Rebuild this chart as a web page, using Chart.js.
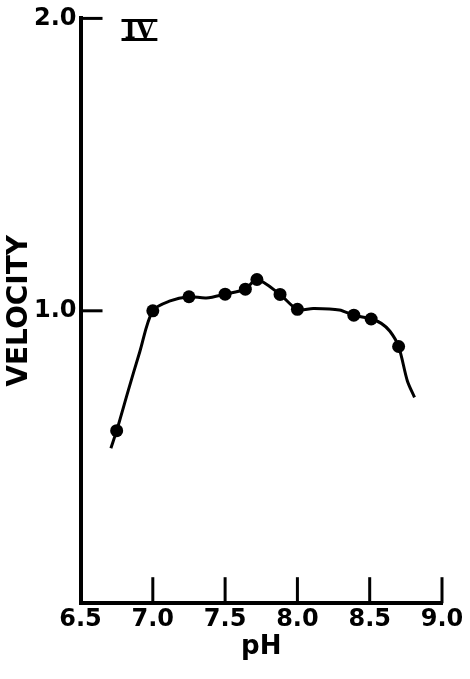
<!DOCTYPE html>
<html>
<head>
<meta charset="utf-8">
<script src="https://cdn.jsdelivr.net/npm/chart.js@4.4.0/dist/chart.umd.min.js"></script>
<style>
html, body { margin: 0; padding: 0; background: #fff; }
#wrap { width: 470px; height: 679px; }
</style>
</head>
<body>
<div id="wrap"><canvas id="canvas" width="470" height="679"></canvas></div>
<script>
// measured points (pH, velocity)
var phValues = [6.75, 7.0, 7.25, 7.5, 7.64, 7.72, 7.88, 8.0, 8.39, 8.51, 8.70];
var velValues = [0.59, 1.0, 1.048, 1.057, 1.074, 1.107, 1.056, 1.005, 0.985, 0.972, 0.878];

// hand drawn curve
var curveX = [6.71, 6.75, 6.83, 6.91, 7.0, 7.12, 7.25, 7.37, 7.5, 7.64, 7.72, 7.88, 8.0, 8.11, 8.29, 8.39, 8.51, 8.58, 8.64, 8.70, 8.76, 8.81];
var curveY = [0.53, 0.59, 0.727, 0.86, 1.0, 1.034, 1.048, 1.044, 1.057, 1.074, 1.107, 1.056, 1.005, 1.008, 1.003, 0.985, 0.972, 0.957, 0.93, 0.878, 0.761, 0.704];

var xTicks = [6.5, 7.0, 7.5, 8.0, 8.5, 9.0];
var xTickMarks = [7.0, 7.5, 8.0, 8.5, 9.0];
var yTickMarks = [1.0, 2.0];
var panelLabel = "IV";

var points = phValues.map(function (x, i) { return { x: x, y: velValues[i] }; });
var curve = curveX.map(function (x, i) { return { x: x, y: curveY[i] }; });

// inward ticks + the roman numeral label
var extras = {
    id: "extras",
    afterDraw: function (chart) {
        var ctx = chart.ctx;
        var xs = chart.scales.x, ys = chart.scales.y;
        var a = chart.chartArea;
        ctx.save();
        ctx.strokeStyle = "#000";
        ctx.lineWidth = 3;
        ctx.lineCap = "butt";
        xTickMarks.forEach(function (v) {
            var px = xs.getPixelForValue(v);
            ctx.beginPath();
            ctx.moveTo(px, a.bottom);
            ctx.lineTo(px, a.bottom - 26);
            ctx.stroke();
        });
        yTickMarks.forEach(function (v) {
            var py = ys.getPixelForValue(v);
            ctx.beginPath();
            ctx.moveTo(a.left, py);
            ctx.lineTo(a.left + 22, py);
            ctx.stroke();
        });
        // "IV"
        ctx.fillStyle = "#000";
        ctx.font = "bold 24px 'DejaVu Serif'";
        ctx.textAlign = "left";
        ctx.textBaseline = "alphabetic";
        var tx = a.left + 44, ty = a.top + 20;
        ctx.fillText(panelLabel, tx, ty);
        var w = ctx.measureText(panelLabel).width;
        ctx.lineWidth = 3;
        ctx.beginPath();
        ctx.moveTo(tx - 3, a.top + 2); ctx.lineTo(tx + w + 3, a.top + 2);
        ctx.moveTo(tx - 3, ty + 1); ctx.lineTo(tx + w + 3, ty + 1);
        ctx.stroke();
        ctx.restore();
    }
};

var ctx = document.getElementById("canvas").getContext("2d");
var myChart = new Chart(ctx, {
    type: "scatter",
    data: {
        datasets: [
            {
                data: curve,
                showLine: true,
                pointRadius: 0,
                borderColor: "#000",
                borderWidth: 3,
                tension: 0.3,
                fill: false
            },
            {
                data: points,
                showLine: false,
                pointRadius: 6.5,
                pointBackgroundColor: "#000",
                pointBorderColor: "#000",
                pointBorderWidth: 0
            }
        ]
    },
    options: {
        responsive: false,
        animation: false,
        layout: { padding: { top: 3, right: 28, bottom: 21, left: 9 } },
        scales: {
            x: {
                type: "linear",
                min: 6.5,
                max: 9.0,
                afterBuildTicks: function (axis) {
                    axis.ticks = xTicks.map(function (v) { return { value: v }; });
                },
                grid: { display: false, drawTicks: false },
                border: { display: true, width: 4, color: "#000" },
                ticks: {
                    color: "#000",
                    font: { family: "DejaVu Sans", size: 24, weight: "bold", lineHeight: 1 },
                    padding: 5,
                    maxRotation: 0,
                    callback: function (v) { return v.toFixed(1); }
                },
                title: {
                    display: true,
                    text: "pH",
                    color: "#000",
                    font: { family: "DejaVu Sans", size: 26, weight: "bold", lineHeight: 0.8 },
                    padding: { top: 0, bottom: 0 }
                }
            },
            y: {
                type: "linear",
                min: 0,
                max: 2.0,
                afterBuildTicks: function (axis) {
                    axis.ticks = yTickMarks.map(function (v) { return { value: v }; });
                },
                grid: { display: false, drawTicks: false },
                border: { display: true, width: 4, color: "#000" },
                ticks: {
                    color: "#000",
                    font: { family: "DejaVu Sans", size: 24, weight: "bold" },
                    padding: 4,
                    callback: function (v) { return v.toFixed(1); }
                },
                title: {
                    display: true,
                    text: "VELOCITY",
                    color: "#000",
                    font: { family: "DejaVu Sans", size: 28, weight: "bold", lineHeight: 0.75 },
                    padding: { top: 0, bottom: 0 }
                }
            }
        },
        plugins: {
            legend: { display: false },
            tooltip: { enabled: false }
        }
    },
    plugins: [extras]
});
</script>
</body>
</html>
